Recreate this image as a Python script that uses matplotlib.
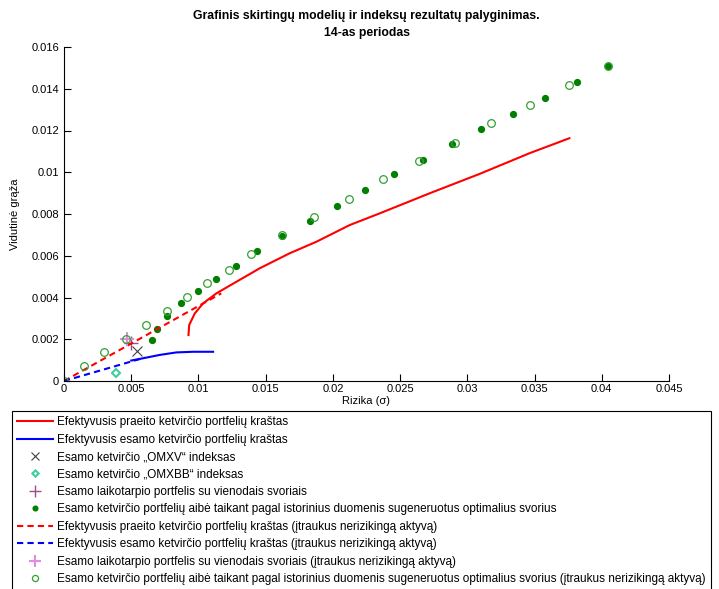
from matplotlib import pyplot as plt
from matplotlib.ticker import FuncFormatter
import numpy as np

# efektyvusis praeito ketvircio kraštas (solid red)
red_x = [0.00926, 0.00931, 0.00973, 0.01035, 0.01134, 0.01233, 0.01456, 0.01679,
         0.01877, 0.02125, 0.02348, 0.02719, 0.03091, 0.03462, 0.03759]
red_y = [0.00220, 0.00268, 0.00324, 0.00372, 0.00420, 0.00457, 0.00540, 0.00612,
         0.00667, 0.00747, 0.00803, 0.00899, 0.00992, 0.01091, 0.01163]

# efektyvusis esamo ketvircio kraštas (solid blue)
blue_x = [0.00500, 0.00589, 0.00713, 0.00837, 0.00961, 0.01109]
blue_y = [0.00098, 0.00109, 0.00125, 0.00137, 0.00140, 0.00140]

# su nerizikingu aktyvu (dashed)
red_rf_x = [0.0, 0.0117]
red_rf_y = [0.0, 0.0042]
blue_rf_x = [0.0, 0.0060]
blue_rf_y = [0.0, 0.00112]

omxv = (0.00545, 0.00144)
omxbb = (0.00384, 0.00040)
equal_w = (0.00498, 0.00183)
equal_w_rf = (0.00466, 0.00200)

# portfeliai su istoriniais optimaliais svoriais
opt_x = [0.00654, 0.00695, 0.00767, 0.00871, 0.00993, 0.01131, 0.01283, 0.01439,
         0.01625, 0.01828, 0.02032, 0.02238, 0.02457, 0.02669, 0.02888, 0.03105,
         0.03338, 0.03579, 0.03816, 0.04044]
opt_y = [0.00195, 0.00251, 0.00310, 0.00372, 0.00431, 0.00487, 0.00552, 0.00624,
         0.00695, 0.00768, 0.00838, 0.00915, 0.00990, 0.01059, 0.01135, 0.01206,
         0.01280, 0.01356, 0.01431, 0.01507]

opt_rf_x = [0.0, 0.00151, 0.00299, 0.00461, 0.00609, 0.00763, 0.00917, 0.01064,
            0.01224, 0.01394, 0.01620, 0.01860, 0.02120, 0.02372, 0.02638, 0.02908,
            0.03178, 0.03463, 0.03759, 0.04044]
opt_rf_y = [0.0, 0.00072, 0.00137, 0.00201, 0.00268, 0.00336, 0.00401, 0.00468,
            0.00533, 0.00608, 0.00699, 0.00787, 0.00872, 0.00967, 0.01053, 0.01142,
            0.01235, 0.01322, 0.01416, 0.01508]

labels = [
    "Efektyvusis praeito ketvirčio portfelių kraštas",
    "Efektyvusis esamo ketvirčio portfelių kraštas",
    "Esamo ketvirčio \u201eOMXV\u201c indeksas",
    "Esamo ketvirčio \u201eOMXBB\u201c indeksas",
    "Esamo laikotarpio portfelis su vienodais svoriais",
    "Esamo ketvirčio portfelių aibė taikant pagal istorinius duomenis sugeneruotus optimalius svorius",
    "Efektyvusis praeito ketvirčio portfelių kraštas (įtraukus nerizikingą aktyvą)",
    "Efektyvusis esamo ketvirčio portfelių kraštas (įtraukus nerizikingą aktyvą)",
    "Esamo laikotarpio portfelis su vienodais svoriais (įtraukus nerizikingą aktyvą)",
    "Esamo ketvirčio portfelių aibė taikant pagal istorinius duomenis sugeneruotus optimalius svorius (įtraukus nerizikingą aktyvą)",
]

plt.rcParams['font.family'] = ['Liberation Sans', 'DejaVu Sans']
plt.rcParams['font.size'] = 8

fig = plt.figure(figsize=(7.19, 5.89), dpi=100)
ax = fig.add_axes([64 / 719, 1 - 381 / 589, 605 / 719, 334 / 589])

ax.plot(red_x, red_y, color='#FF0000', lw=1.5, label=labels[0])
ax.plot(blue_x, blue_y, color='#0000FF', lw=1.5, label=labels[1])
ax.plot(*omxv, ls='none', marker='x', ms=7, mew=0.8, color='#404040', label=labels[2])
ax.plot(*omxbb, ls='none', marker='D', ms=4, mew=1.5, mfc='white', mec='#3CCFA0', label=labels[3])
ax.plot(*equal_w, ls='none', marker='+', ms=10, mew=1.0, color='#A04A90', label=labels[4])
ax.plot(opt_x, opt_y, ls='none', marker='o', ms=4.2, color='#007F00', label=labels[5])
ax.plot(red_rf_x, red_rf_y, color='#FF0000', lw=1.5, ls=(0, (3, 2)), label=labels[6])
ax.plot(blue_rf_x, blue_rf_y, color='#0000FF', lw=1.5, ls=(0, (3, 2)), label=labels[7])
ax.plot(*equal_w_rf, ls='none', marker='+', ms=10, mew=1.5, color='#E08CE0', label=labels[8])
ax.plot(opt_rf_x, opt_rf_y, ls='none', marker='o', ms=5.5, mew=0.9, mfc='none', mec='#33A033', label=labels[9])

ax.set_xlim(0, 0.045)
ax.set_ylim(0, 0.016)
ax.set_xticks(np.arange(0, 0.0451, 0.005))
ax.set_yticks(np.arange(0, 0.0161, 0.002))
fmt = FuncFormatter(lambda v, p: '%g' % round(v, 4))
ax.xaxis.set_major_formatter(fmt)
ax.yaxis.set_major_formatter(fmt)
ax.tick_params(direction='in', length=5, width=0.8, labelsize=8)
ax.tick_params(axis='x', pad=2.5)
ax.spines['top'].set_visible(False)
ax.spines['right'].set_visible(False)

ax.set_title("Grafinis skirtingų modelių ir indeksų rezultatų palyginimas.\n14-as periodas",
             fontsize=8.8, fontweight='bold', pad=8, linespacing=1.55)
ax.set_xlabel("Rizika (σ)", labelpad=1)
ax.set_ylabel("Vidutinė grąža", labelpad=8)

leg = fig.legend(loc='upper left', bbox_to_anchor=(12 / 719, 1 - 411 / 589),
                 fontsize=8.5, numpoints=1, handlelength=3.0, handletextpad=0.4,
                 labelspacing=0.46, borderaxespad=0, borderpad=0.45,
                 markerscale=0.8, fancybox=False, framealpha=1, edgecolor='black')
leg.get_frame().set_linewidth(0.8)

fig.savefig('out.png', dpi=100)
